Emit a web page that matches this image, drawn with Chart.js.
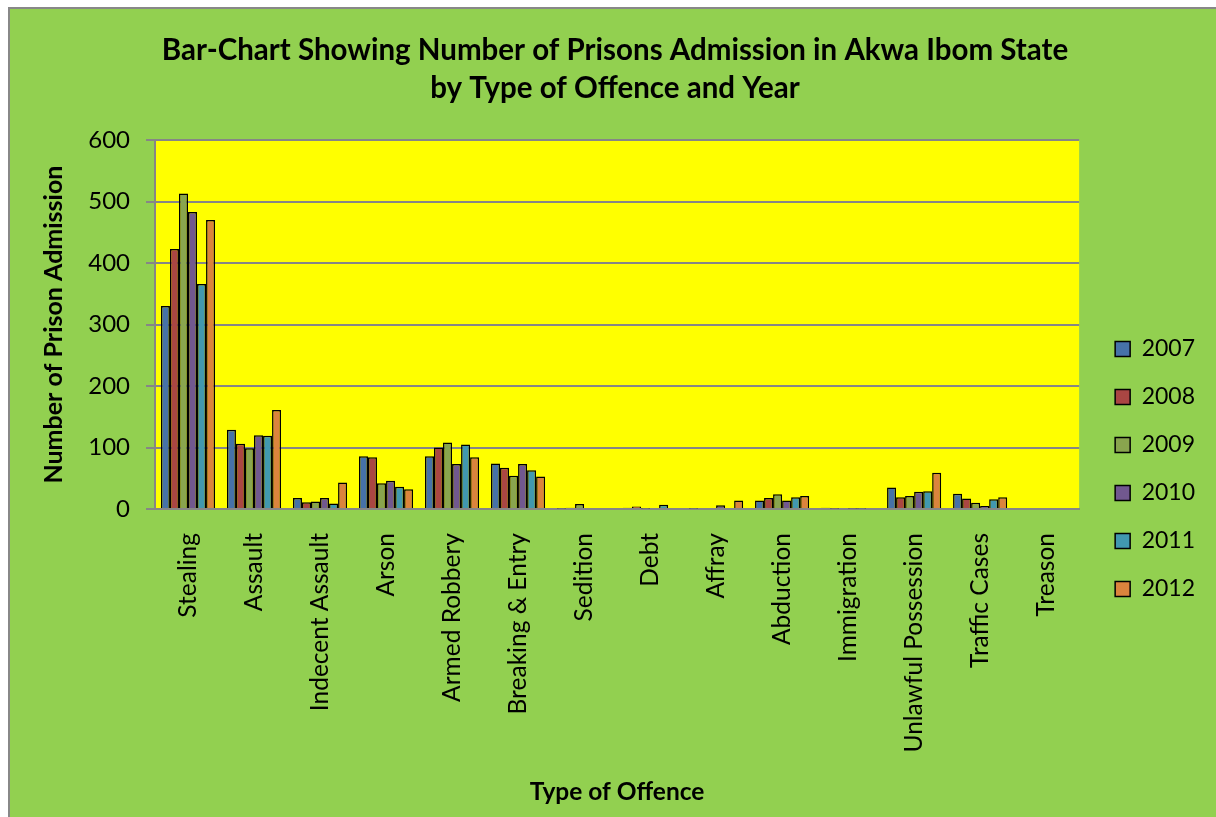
<!DOCTYPE html>
<html lang="en">
<head>
  <meta charset="UTF-8">
  <title>Prison Admission by Offence</title>
  <script src="https://cdn.jsdelivr.net/npm/chart.js"></script>
  <style>
    body { margin: 0; background: #fff; }
    #wrap { position: absolute; left: 8px; top: 7px; width: 1208px; height: 810px;
            border-left: 2px solid #888; border-top: 2px solid #888; }
  </style>
</head>
<body>
  <div id="wrap"><canvas id="chart" width="1208" height="810"></canvas></div>

  <script>
    const offences = ['Stealing', 'Assault', 'Indecent Assault', 'Arson', 'Armed Robbery',
      'Breaking & Entry', 'Sedition', 'Debt', 'Affray', 'Abduction', 'Immigration',
      'Unlawful Possession', 'Traffic Cases', 'Treason'];
    const years = ['2007', '2008', '2009', '2010', '2011', '2012'];

    // admissions per offence, one array per year
    const y2007 = [330, 129, 18, 86, 86, 74, 1, 2, 1, 14, 2, 35, 25, 0];
    const y2008 = [423, 106, 11, 84, 100, 67, 2, 4, 0, 18, 1, 19, 17, 0];
    const y2009 = [513, 99, 12, 42, 108, 54, 8, 1, 0, 24, 0, 21, 10, 0];
    const y2010 = [483, 120, 18, 46, 73, 73, 0, 0, 6, 14, 1, 28, 5, 0];
    const y2011 = [366, 119, 9, 36, 105, 63, 0, 7, 0, 19, 1, 29, 16, 0];
    const y2012 = [470, 161, 43, 32, 84, 53, 0, 0, 14, 21, 0, 59, 19, 0];
    const yTicks = [0, 100, 200, 300, 400, 500, 600];

    const colors = ['#4672A8', '#AA4643', '#89A54E', '#71588F', '#4198AF', '#DB843D'];
    const series = [y2007, y2008, y2009, y2010, y2011, y2012];
    const FONT = 'Lato, "Open Sans", sans-serif';
    const GRID = 'rgb(134,134,134)';

    const bgPlugin = {
      id: 'bg',
      beforeDraw(chart) {
        const { ctx, chartArea: a } = chart;
        ctx.save();
        ctx.fillStyle = '#92D050';
        ctx.fillRect(0, 0, chart.width, chart.height);
        ctx.fillStyle = '#FFFF00';
        ctx.fillRect(a.left, a.top, a.right - a.left, a.bottom - a.top);
        ctx.restore();
      },
      afterLayout(chart) {
        // push the legend a bit right of the plot and lower, like the original
        const lg = chart.legend;
        lg.left += 11; lg.right += 11;
        lg.top += 55; lg.bottom += 55;
        // title is centred on the whole chart, not just left of the padding
        const t = chart.titleBlock;
        t.left += 13; t.right += 13;
      }
    };

    new Chart(document.getElementById('chart'), {
      type: 'bar',
      data: {
        labels: offences,
        datasets: years.map((yr, i) => ({
          label: yr,
          data: series[i],
          backgroundColor: colors[i],
          borderColor: '#000',
          borderWidth: 1.5,
          categoryPercentage: 0.82,
          barPercentage: 1
        }))
      },
      options: {
        responsive: false,
        devicePixelRatio: 1,
        animation: false,
        layout: { padding: { left: 0, right: 24, top: 0, bottom: 0 } },
        plugins: {
          title: {
            display: true,
            text: ['Bar-Chart Showing Number of Prisons Admission in Akwa Ibom State',
                   'by Type of Offence and Year'],
            color: '#000',
            font: { family: FONT, size: 29.5, weight: 'bold', lineHeight: 1.29 },
            padding: { top: 22, bottom: 33 }
          },
          legend: {
            position: 'right',
            labels: {
              color: '#000',
              font: { family: FONT, size: 23 },
              boxWidth: 15,
              boxHeight: 15,
              padding: 25
            }
          },
          tooltip: { enabled: false }
        },
        scales: {
          x: {
            grid: { display: false },
            border: { color: GRID, width: 2 },
            ticks: {
              color: '#000',
              font: { family: FONT, size: 24.5 },
              minRotation: 90, maxRotation: 90,
              padding: 16
            },
            title: {
              display: true,
              text: 'Type of Offence',
              color: '#000',
              font: { family: FONT, size: 24.5, weight: 'bold' },
              padding: { top: 0, bottom: 12 }
            },
            afterFit(scale) { scale.height = 310; }
          },
          y: {
            min: 0, max: 600,
            afterBuildTicks(scale) { scale.ticks = yTicks.map(v => ({ value: v })); },
            grid: { color: GRID, lineWidth: 2, tickLength: 9 },
            border: { color: GRID, width: 2 },
            ticks: {
              color: '#000',
              font: { family: FONT, size: 24 },
              padding: 16
            },
            title: {
              display: true,
              text: 'Number of Prison Admission',
              color: '#000',
              font: { family: FONT, size: 25, weight: 'bold' },
              padding: { top: 29, bottom: 0 }
            },
            afterFit(scale) { scale.width = 145; }
          }
        }
      },
      plugins: [bgPlugin]
    });
  </script>
</body>
</html>
